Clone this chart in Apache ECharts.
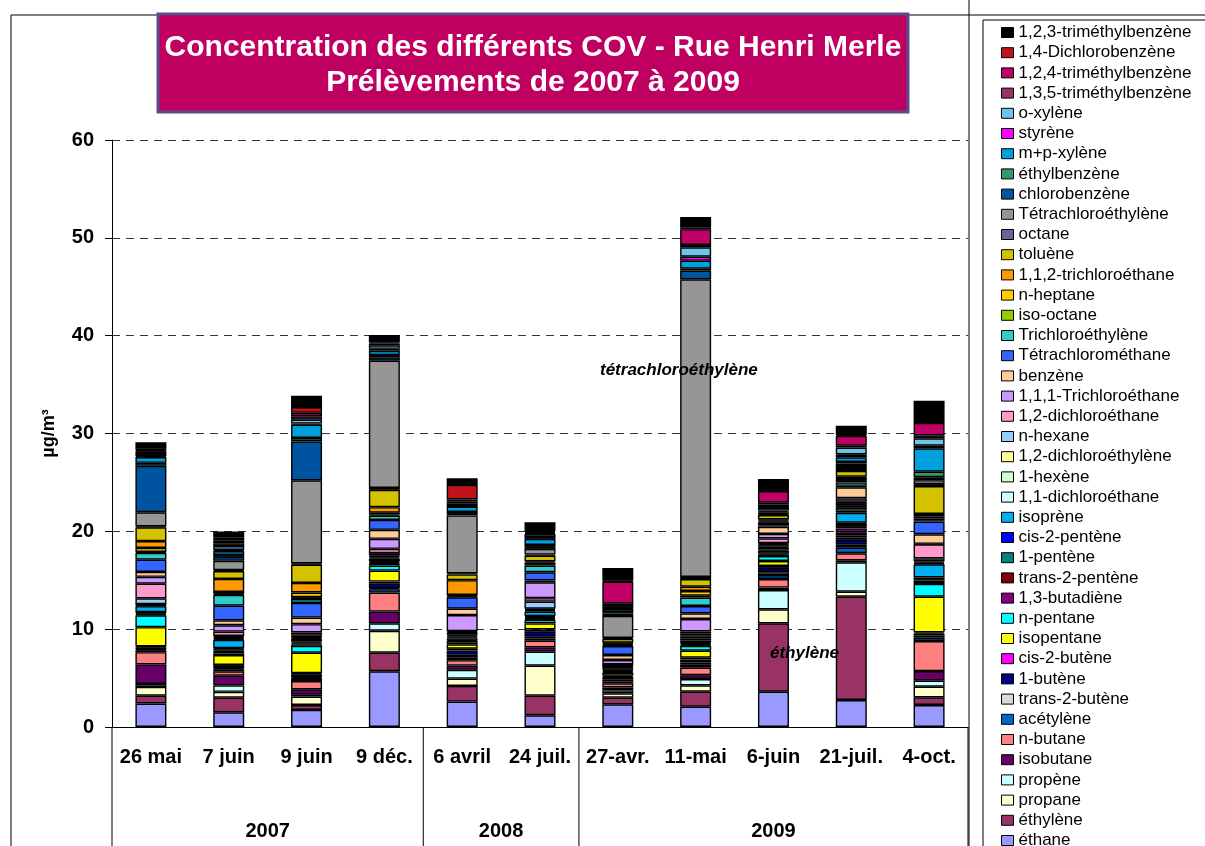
<!DOCTYPE html>
<html>
<head>
<meta charset="utf-8">
<script src="https://cdn.jsdelivr.net/npm/echarts@6/dist/echarts.min.js"></script>
<style>
html, body { margin: 0; padding: 0; background: #fff; }
#chart { width: 1205px; height: 846px; }
</style>
</head>
<body>
<div id="chart"></div>
<script>
// prélèvements (axe X) et années
var categories = ['26 mai', '7 juin', '9 juin', '9 déc.', '6 avril', '24 juil.', '27-avr.', '11-mai', '6-juin', '21-juil.', '4-oct.'];
var years = ['2007', '2008', '2009'];
var yearCounts = [4, 2, 5];

// composés, du bas de la pile vers le haut
var composes = ['éthane', 'éthylène', 'propane', 'propène', 'isobutane', 'n-butane', 'acétylène', 'trans-2-butène',
	'1-butène', 'cis-2-butène', 'isopentane', 'n-pentane', '1,3-butadiène', 'trans-2-pentène', '1-pentène',
	'cis-2-pentène', 'isoprène', '1,1-dichloroéthane', '1-hexène', '1,2-dichloroéthylène', 'n-hexane',
	'1,2-dichloroéthane', '1,1,1-Trichloroéthane', 'benzène', 'Tétrachlorométhane', 'Trichloroéthylène',
	'iso-octane', 'n-heptane', '1,1,2-trichloroéthane', 'toluène', 'octane', 'Tétrachloroéthylène',
	'chlorobenzène', 'éthylbenzène', 'm+p-xylène', 'styrène', 'o-xylène', '1,3,5-triméthylbenzène',
	'1,2,4-triméthylbenzène', '1,4-Dichlorobenzène', '1,2,3-triméthylbenzène'];

// concentrations en µg/m3, une liste par prélèvement (même ordre que composes)
var p2007_26mai = [2.4, 0.8, 0.9, 0.3, 2.0, 1.25, 0.2, 0.1, 0.2, 0.1, 1.95, 1.2, 0.1, 0.1, 0.1, 0.05, 0.6, 0.1, 0.05, 0.05, 0.6, 1.5, 0.7, 0.5, 1.25, 0.7, 0.1, 0.4, 0.7, 1.4, 0.1, 1.45, 4.75, 0.3, 0.6, 0.1, 0.3, 0.2, 0.1, 0.2, 0.6];
var p2007_7juin = [1.5, 1.5, 0.6, 0.65, 1.0, 0.45, 0.2, 0.1, 0.3, 0.05, 1.0, 0.15, 0.2, 0.1, 0.15, 0.1, 0.85, 0.1, 0.1, 0.1, 0.1, 0.45, 0.65, 0.5, 1.5, 1.1, 0.1, 0.2, 1.34, 0.8, 0.1, 0.95, 0.4, 0.2, 0.4, 0.1, 0.4, 0.3, 0.3, 0.3, 0.6];
var p2007_9juin = [1.75, 0.5, 0.85, 0.2, 0.55, 0.85, 0.3, 0.1, 0.3, 0.1, 2.1, 0.7, 0.15, 0.1, 0.1, 0.1, 0.25, 0.1, 0.1, 0.05, 0.1, 0.31, 0.85, 0.67, 1.5, 0.4, 0.2, 0.47, 0.98, 1.88, 0.1, 8.5, 3.98, 0.35, 1.37, 0.1, 0.4, 0.35, 0.35, 0.6, 1.14];
var p2007_9dec = [5.7, 1.9, 2.24, 0.76, 1.2, 1.94, 0.35, 0.1, 0.5, 0.17, 1.13, 0.52, 0.15, 0.1, 0.1, 0.1, 0.25, 0.1, 0.1, 0.1, 0.26, 0.44, 1.02, 0.92, 1.02, 0.44, 0.1, 0.2, 0.56, 1.77, 0.2, 13.0, 0.35, 0.23, 0.44, 0.2, 0.35, 0.2, 0.1, 0.15, 0.6];
var p2008_6avril = [2.6, 1.6, 0.75, 0.89, 0.44, 0.55, 0.3, 0.25, 0.45, 0.18, 0.45, 0.2, 0.15, 0.1, 0.15, 0.1, 0.1, 0.1, 0.1, 0.15, 0.1, 0.09, 1.64, 0.65, 1.16, 0.1, 0.05, 0.1, 1.51, 0.59, 0.1, 5.93, 0.15, 0.2, 0.54, 0.05, 0.3, 0.2, 0.2, 1.47, 0.68];
var p2008_24juil = [1.2, 2.0, 3.07, 1.43, 0.44, 0.69, 0.2, 0.2, 0.55, 0.2, 0.61, 0.35, 0.1, 0.1, 0.1, 0.1, 0.45, 0.1, 0.1, 0.1, 0.73, 0.35, 1.62, 0.2, 0.83, 0.68, 0.15, 0.15, 0.12, 0.6, 0.1, 0.59, 0.2, 0.2, 0.62, 0.2, 0.3, 0.1, 0.1, 0.1, 0.9];
var p2009_27avr = [2.32, 0.68, 0.44, 0.3, 0.3, 0.43, 0.2, 0.15, 0.3, 0.12, 0.31, 0.1, 0.1, 0.1, 0.15, 0.05, 0.1, 0.05, 0.05, 0.04, 0.05, 0.05, 0.46, 0.51, 0.92, 0.1, 0.08, 0.08, 0.08, 0.38, 0.1, 2.25, 0.25, 0.15, 0.31, 0.05, 0.25, 0.25, 2.24, 0.1, 1.3];
var p2009_11mai = [2.08, 1.53, 0.65, 0.64, 0.4, 0.76, 0.3, 0.25, 0.3, 0.17, 0.72, 0.5, 0.1, 0.1, 0.1, 0.05, 0.17, 0.2, 0.2, 0.16, 0.2, 0.2, 1.26, 0.58, 0.75, 0.85, 0.2, 0.48, 0.44, 0.79, 0.2, 30.43, 0.88, 0.2, 0.83, 0.4, 0.96, 0.25, 1.6, 0.2, 1.05];
var p2009_6juin = [3.61, 6.99, 1.43, 1.97, 0.25, 0.88, 0.4, 0.3, 0.43, 0.2, 0.51, 0.51, 0.15, 0.1, 0.3, 0.1, 0.2, 0.1, 0.15, 0.1, 0.1, 0.51, 0.44, 0.74, 0.15, 0.3, 0.1, 0.1, 0.1, 0.45, 0.1, 0.15, 0.1, 0.1, 0.3, 0.05, 0.25, 0.2, 1.2, 0.05, 1.18];
var p2009_21juil = [2.76, 10.56, 0.51, 3.0, 0.2, 0.73, 0.57, 0.3, 0.5, 0.22, 0.25, 0.3, 0.4, 0.15, 0.2, 0.23, 1.02, 0.2, 0.3, 0.2, 0.2, 0.23, 0.35, 1.12, 0.15, 0.35, 0.15, 0.2, 0.24, 0.58, 0.2, 0.3, 0.25, 0.17, 0.48, 0.3, 0.68, 0.2, 1.0, 0.1, 0.95];
var p2009_4oct = [2.25, 0.78, 1.09, 0.61, 0.99, 3.07, 0.35, 0.2, 0.2, 0.14, 3.64, 1.3, 0.2, 0.15, 0.15, 0.18, 1.33, 0.1, 0.1, 0.1, 0.31, 1.43, 0.05, 0.98, 1.29, 0.15, 0.15, 0.2, 0.28, 2.86, 0.2, 0.4, 0.3, 0.57, 2.39, 0.26, 0.76, 0.3, 1.29, 0.05, 2.2];

var yTicks = { min: 0, max: 60, interval: 10 };

var prelevements = [p2007_26mai, p2007_7juin, p2007_9juin, p2007_9dec, p2008_6avril, p2008_24juil,
	p2009_27avr, p2009_11mai, p2009_6juin, p2009_21juil, p2009_4oct];

// couleurs Excel de chaque composé (même ordre)
var couleurs = ['#9999FF', '#993366', '#FFFFCC', '#CCFFFF', '#660066', '#FF8080', '#0066CC', '#D9D9D9',
	'#000080', '#FF00FF', '#FFFF00', '#00FFFF', '#800080', '#800000', '#008080', '#0000FF', '#00B0F0',
	'#CCFFFF', '#CCFFCC', '#FFFF99', '#99CCFF', '#FF99CC', '#CC99FF', '#FFCC99', '#3366FF', '#33CCCC',
	'#99CC00', '#FFCC00', '#FF9900', '#D4C200', '#666699', '#969696', '#00539F', '#339966', '#00A0DC',
	'#FF00FF', '#70C4E8', '#993366', '#C00066', '#C0141C', '#000000'];

var police = '"Liberation Sans", Arial, sans-serif';

var series = composes.map(function(nom, i) {
	return {
		name: nom,
		type: 'bar',
		stack: 'cov',
		barWidth: 31,
		itemStyle: { color: couleurs[i], borderColor: '#000', borderWidth: 1.4 },
		data: prelevements.map(function(p) { return p[i]; })
	};
});

var dom = document.getElementById('chart');
var myChart = echarts.init(dom);
var option = {
	animation: false,
	textStyle: { fontFamily: police },
	grid: { left: 112, right: 237, top: 140, bottom: 119 },
	legend: {
		orient: 'vertical',
		left: 983,
		top: 20,
		height: 900,
		padding: [4, 20, 20, 18],
		borderColor: '#000',
		borderWidth: 1,
		itemWidth: 12,
		itemHeight: 10,
		itemGap: 3.2,
		icon: 'rect',
		selectedMode: false,
		itemStyle: { borderWidth: 1 },
		textStyle: { fontSize: 17, lineHeight: 17, color: '#000', fontFamily: police },
		data: composes.slice().reverse()
	},
	xAxis: {
		type: 'category',
		data: categories,
		axisLine: { lineStyle: { color: '#000', width: 1 } },
		axisTick: { interval: 0, length: 75, lineStyle: { color: '#000' } },
		axisLabel: { interval: 0, margin: 20, fontSize: 20, fontWeight: 'bold', color: '#000', fontFamily: police }
	},
	yAxis: {
		type: 'value',
		min: yTicks.min,
		max: yTicks.max,
		interval: yTicks.interval,
		name: 'µg/m³',
		nameLocation: 'middle',
		nameRotate: 90,
		nameGap: 54,
		nameTextStyle: { fontSize: 18, fontWeight: 'bold', color: '#000', fontFamily: police },
		axisLine: { show: true, lineStyle: { color: '#000' } },
		axisTick: { show: true, length: 7, lineStyle: { color: '#000' } },
		axisLabel: { fontSize: 20, fontWeight: 'bold', color: '#000', margin: 18, fontFamily: police },
		splitLine: { lineStyle: { color: '#333', type: [8, 6], width: 1 } }
	},
	series: series
};
myChart.setOption(option, true);

// séparateurs des années, titres et annotations
var cx = function(i) { return myChart.convertToPixel({ xAxisIndex: 0 }, i); };
var pas = cx(1) - cx(0);
var y0 = myChart.convertToPixel({ yAxisIndex: 0 }, 0);
var graphics = [
	{ type: 'rect', z: -1, silent: true, shape: { x: 11, y: 15, width: 1400, height: 1000 },
		style: { fill: 'none', stroke: '#000', lineWidth: 1 } },
	{ type: 'line', silent: true, shape: { x1: 969, y1: 0, x2: 969, y2: 846 },
		style: { stroke: '#000', lineWidth: 1 } },
	{ type: 'rect', silent: true, shape: { x: 158, y: 14, width: 750, height: 98 },
		style: { fill: '#BF0060', stroke: '#5F4B8B', lineWidth: 3 } },
	{ type: 'text', silent: true, z: 100, x: 533, y: 48,
		style: { text: 'Concentration des différents COV - Rue Henri Merle', fill: '#fff',
			font: 'bold 30px ' + police, textAlign: 'center', textVerticalAlign: 'middle' } },
	{ type: 'text', silent: true, z: 100, x: 533, y: 83,
		style: { text: 'Prélèvements de 2007 à 2009', fill: '#fff',
			font: 'bold 30px ' + police, textAlign: 'center', textVerticalAlign: 'middle' } },
	{ type: 'text', silent: true, z: 100, x: 600, y: 370,
		style: { text: 'tétrachloroéthylène', fill: '#000', font: 'italic bold 17px ' + police,
			textVerticalAlign: 'middle' } },
	{ type: 'text', silent: true, z: 100, x: 770, y: 653,
		style: { text: 'éthylène', fill: '#000', font: 'italic bold 17px ' + police,
			textVerticalAlign: 'middle' } }
];
var debut = 0;
var bords = [cx(0) - pas / 2];
years.forEach(function(an, k) {
	var fin = debut + yearCounts[k];
	var xg = cx(debut) - pas / 2;
	var xd = cx(fin - 1) + pas / 2;
	bords.push(xd);
	graphics.push({ type: 'text', silent: true, x: (xg + xd) / 2, y: 831,
		style: { text: an, fill: '#000', font: 'bold 20px ' + police, textAlign: 'center', textVerticalAlign: 'middle' } });
	debut = fin;
});
bords.forEach(function(x) {
	graphics.push({ type: 'line', silent: true, shape: { x1: x, y1: y0, x2: x, y2: 846 },
		style: { stroke: '#000', lineWidth: 1 } });
});
myChart.setOption({ graphic: graphics });
</script>
</body>
</html>
